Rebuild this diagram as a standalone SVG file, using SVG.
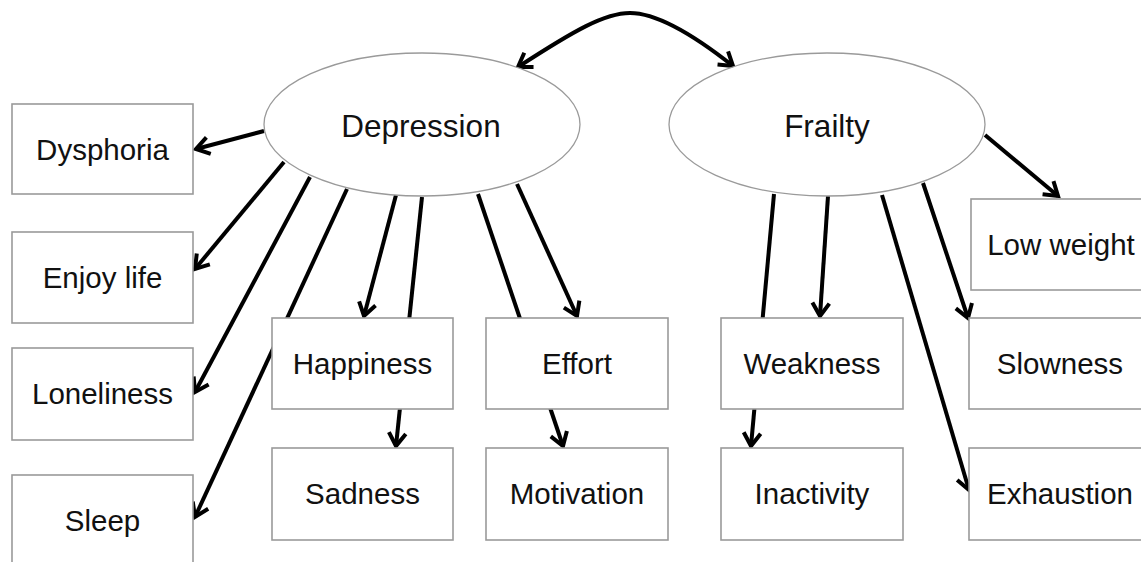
<svg xmlns="http://www.w3.org/2000/svg" width="1141" height="562" viewBox="0 0 1141 562">
  <style>
    .box { fill: #ffffff; stroke: #9a9a9a; stroke-width: 1.6; }
    .latent { fill: #ffffff; stroke: #9a9a9a; stroke-width: 1.3; }
    .lbl { font-family: "Liberation Sans", Arial, sans-serif; font-size: 29.5px; fill: #111111; text-anchor: middle; }
    .big { font-size: 31.5px; }
    .edge { fill: none; stroke: #000000; stroke-width: 4; marker-end: url(#head); }
  </style>
  <defs>
    <marker id="head" markerUnits="userSpaceOnUse" markerWidth="30" markerHeight="30" viewBox="-20 -15 30 30" refX="0" refY="0" orient="auto-start-reverse" overflow="visible">
      <path d="M-13,-8.5 L0,0 L-13,8.5" fill="none" stroke="#000000" stroke-width="4" stroke-linejoin="miter"/>
    </marker>
  </defs>

  <rect width="1141" height="562" fill="#ffffff"/>

  <!-- connectors (drawn first so the boxes sit on top of crossing lines) -->
  <g id="connectors">
    <path class="edge" d="M518,67 C575,30 605,13 630,13 C655,13 690,32 733,66" style="marker-start:url(#head)"/>
    <!-- Depression indicators -->
    <line class="edge" x1="264" y1="131" x2="196" y2="149"/>
    <line class="edge" x1="284" y1="162" x2="195" y2="269"/>
    <line class="edge" x1="310" y1="177" x2="195" y2="392"/>
    <line class="edge" x1="347" y1="189" x2="195" y2="517"/>
    <line class="edge" x1="396" y1="195" x2="364" y2="316"/>
    <line class="edge" x1="422" y1="197" x2="396" y2="446"/>
    <line class="edge" x1="478" y1="194" x2="563" y2="446"/>
    <line class="edge" x1="517" y1="184" x2="577" y2="316"/>
    <!-- Frailty indicators -->
    <line class="edge" x1="985" y1="135" x2="1058" y2="196"/>
    <line class="edge" x1="828" y1="196" x2="820" y2="316"/>
    <line class="edge" x1="774" y1="194" x2="751" y2="446"/>
    <line class="edge" x1="882" y1="195" x2="969" y2="490"/>
    <line class="edge" x1="923" y1="183" x2="968" y2="318"/>
  </g>

  <!-- latent variables -->
  <g id="depression">
    <ellipse class="latent" cx="422" cy="124.5" rx="158" ry="71.5"/>
    <text class="lbl big" x="421" y="137">Depression</text>
  </g>
  <g id="frailty">
    <ellipse class="latent" cx="827" cy="124.5" rx="158" ry="71.5"/>
    <text class="lbl big" x="827" y="137">Frailty</text>
  </g>

  <!-- observed indicators -->
  <g id="dysphoria">
    <rect class="box" x="12" y="104" width="181" height="90"/>
    <text class="lbl" x="102.5" y="160">Dysphoria</text>
  </g>
  <g id="enjoy-life">
    <rect class="box" x="12" y="232" width="181" height="91"/>
    <text class="lbl" x="102.5" y="288">Enjoy life</text>
  </g>
  <g id="loneliness">
    <rect class="box" x="12" y="348" width="181" height="92"/>
    <text class="lbl" x="102.5" y="404">Loneliness</text>
  </g>
  <g id="sleep">
    <rect class="box" x="12" y="475" width="181" height="91"/>
    <text class="lbl" x="102.5" y="531">Sleep</text>
  </g>
  <g id="happiness">
    <rect class="box" x="272" y="318" width="181" height="91"/>
    <text class="lbl" x="362.5" y="374">Happiness</text>
  </g>
  <g id="sadness">
    <rect class="box" x="272" y="448" width="181" height="92"/>
    <text class="lbl" x="362.5" y="504">Sadness</text>
  </g>
  <g id="effort">
    <rect class="box" x="486" y="318" width="182" height="91"/>
    <text class="lbl" x="577" y="374">Effort</text>
  </g>
  <g id="motivation">
    <rect class="box" x="486" y="448" width="182" height="92"/>
    <text class="lbl" x="577" y="504">Motivation</text>
  </g>
  <g id="weakness">
    <rect class="box" x="721" y="318" width="182" height="91"/>
    <text class="lbl" x="812" y="374">Weakness</text>
  </g>
  <g id="inactivity">
    <rect class="box" x="721" y="448" width="182" height="92"/>
    <text class="lbl" x="812" y="504">Inactivity</text>
  </g>
  <g id="low-weight">
    <rect class="box" x="971" y="199" width="181" height="91"/>
    <text class="lbl" x="1061" y="255">Low weight</text>
  </g>
  <g id="slowness">
    <rect class="box" x="969" y="318" width="181" height="91"/>
    <text class="lbl" x="1060" y="374">Slowness</text>
  </g>
  <g id="exhaustion">
    <rect class="box" x="969" y="448" width="181" height="92"/>
    <text class="lbl" x="1060" y="504">Exhaustion</text>
  </g>
</svg>
